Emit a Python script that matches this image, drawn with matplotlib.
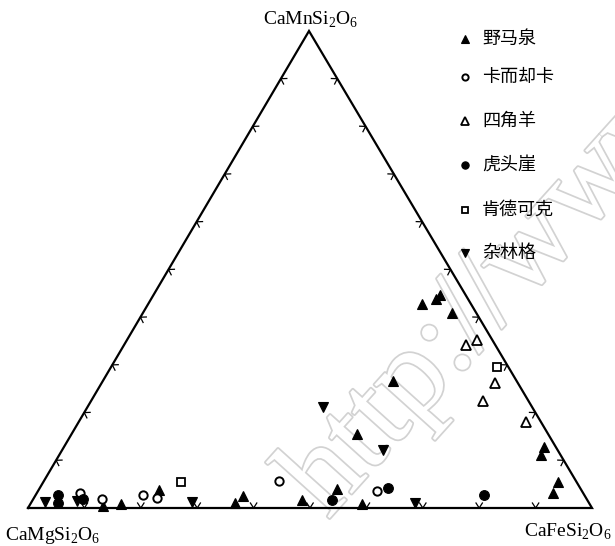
import numpy as np
import matplotlib.pyplot as plt
import matplotlib.patheffects as pe

plt.rcParams['font.family'] = ['Noto Sans CJK SC', 'DejaVu Sans']
plt.rcParams['mathtext.fontset'] = 'custom'
plt.rcParams['mathtext.rm'] = 'Liberation Serif'

# pyroxene end members, mol% (Di = CaMgSi2O6, Hd = CaFeSi2O6, Jo = CaMnSi2O6)
# each locality: Hd and Jo, Di is the remainder
yemaquan_hd = [13.1, 16.1, 21.3, 36.2, 36.9, 47.7, 52.8, 58.8, 50.6, 51.5,
               48.5, 50.5, 50.8, 54.8, 85.1, 85.4, 91.3, 91.5]
yemaquan_jo = [0.4, 0.8, 3.8, 1.0, 2.5, 1.7, 4.0, 0.8, 15.5, 26.6,
               42.8, 43.8, 44.7, 40.9, 12.8, 11.1, 5.4, 3.1]

kaerqueka_hd = [7.7, 12.2, 19.0, 21.8, 41.7, 60.1]
kaerqueka_jo = [3.1, 1.9, 2.7, 2.1, 5.7, 3.6]

sijiaoyang_hd = [60.6, 62.1, 69.8, 69.5, 79.3]
sijiaoyang_jo = [34.2, 35.2, 26.2, 22.4, 18.0]

hutouya_hd = [4.0, 4.8, 8.8, 53.1, 61.7, 79.5]
hutouya_jo = [2.7, 1.0, 1.9, 1.7, 4.2, 2.7]

kendekeke_hd = [24.4, 68.4]
kendekeke_jo = [5.4, 29.6]

zalinge_hd = [2.4, 8.0, 28.5, 68.1, 41.7, 56.9]
zalinge_jo = [1.3, 1.5, 1.3, 1.0, 21.2, 12.2]

localities = ['野马泉', '卡而却卡', '四角羊', '虎头崖', '肯德可克', '杂林格']
tick_values = np.arange(10, 100, 10)

# triangle corners in drawing units: Di (left), Hd (right), Jo (top)
DI = np.array([28.0, 508.0])
HD = np.array([592.0, 508.0])
JO = np.array([309.0, 31.0])


def to_xy(hd, jo):
    hd = np.asarray(hd, float) / 100
    jo = np.asarray(jo, float) / 100
    di = 1 - hd - jo
    x = di * DI[0] + hd * HD[0] + jo * JO[0]
    y = di * DI[1] + hd * HD[1] + jo * JO[1]
    return x, y


fig = plt.figure(figsize=(6.15, 5.46), dpi=100)
ax = fig.add_axes([0, 0, 1, 1])
ax.set_xlim(0, 615)
ax.set_ylim(546, 0)
ax.axis('off')

# faint site stamp across the plot
ax.text(328, 520, 'http://www', rotation=48, rotation_mode='anchor',
        ha='left', va='baseline', fontsize=88, family='Liberation Serif',
        color='white', zorder=1, clip_on=True,
        path_effects=[pe.withStroke(linewidth=2.5, foreground='#d2d2d2')])

# triangle frame
tri = np.array([DI, HD, JO, DI])
ax.plot(tri[:, 0], tri[:, 1], color='black', lw=1.6, zorder=3,
        solid_joinstyle='miter')

# chevron ticks on each edge, opening into the triangle
centroid = (DI + HD + JO) / 3
for p0, p1 in [(DI, HD), (HD, JO), (JO, DI)]:
    d = (p1 - p0) / np.linalg.norm(p1 - p0)
    n = np.array([-d[1], d[0]])
    if np.dot(centroid - p0, n) < 0:
        n = -n
    for t in tick_values / 100:
        apex = p0 + t * (p1 - p0)
        a1 = apex + 5 * n + 3.2 * d
        a2 = apex + 5 * n - 3.2 * d
        ax.plot([a1[0], apex[0], a2[0]], [a1[1], apex[1], a2[1]],
                color='black', lw=0.9, zorder=3)

styles = [
    dict(marker='^', ms=7.5, mfc='black', mec='black', mew=0.8),
    dict(marker='o', ms=6.0, mfc='white', mec='black', mew=1.4),
    dict(marker='^', ms=7.0, mfc='white', mec='black', mew=1.3),
    dict(marker='o', ms=7.0, mfc='black', mec='black', mew=0.8),
    dict(marker='s', ms=6.0, mfc='white', mec='black', mew=1.3),
    dict(marker='v', ms=7.5, mfc='black', mec='black', mew=0.8),
]
series = [
    (yemaquan_hd, yemaquan_jo),
    (kaerqueka_hd, kaerqueka_jo),
    (sijiaoyang_hd, sijiaoyang_jo),
    (hutouya_hd, hutouya_jo),
    (kendekeke_hd, kendekeke_jo),
    (zalinge_hd, zalinge_jo),
]
for (hd, jo), st in zip(series, styles):
    x, y = to_xy(hd, jo)
    ax.plot(x, y, ls='none', zorder=4, **st)

# key on the upper right
key_y = [39, 77, 121, 165, 210, 253]
for name, st, ky in zip(localities, styles, key_y):
    small = dict(st)
    small['ms'] = st['ms'] * 0.75
    ax.plot([465], [ky], ls='none', zorder=4, **small)
    ax.text(482, ky, name, fontsize=13, va='center', ha='left', zorder=4)

# end-member labels
ax.text(311, 20, r'CaMnSi$_2$O$_6$', fontsize=14, family='Liberation Serif',
        ha='center', va='center')
ax.text(5, 535, r'CaMgSi$_2$O$_6$', fontsize=14, family='Liberation Serif',
        ha='left', va='center')
ax.text(612, 532, r'CaFeSi$_2$O$_6$', fontsize=14, family='Liberation Serif',
        ha='right', va='center')

fig.savefig('out.png', dpi=100)
